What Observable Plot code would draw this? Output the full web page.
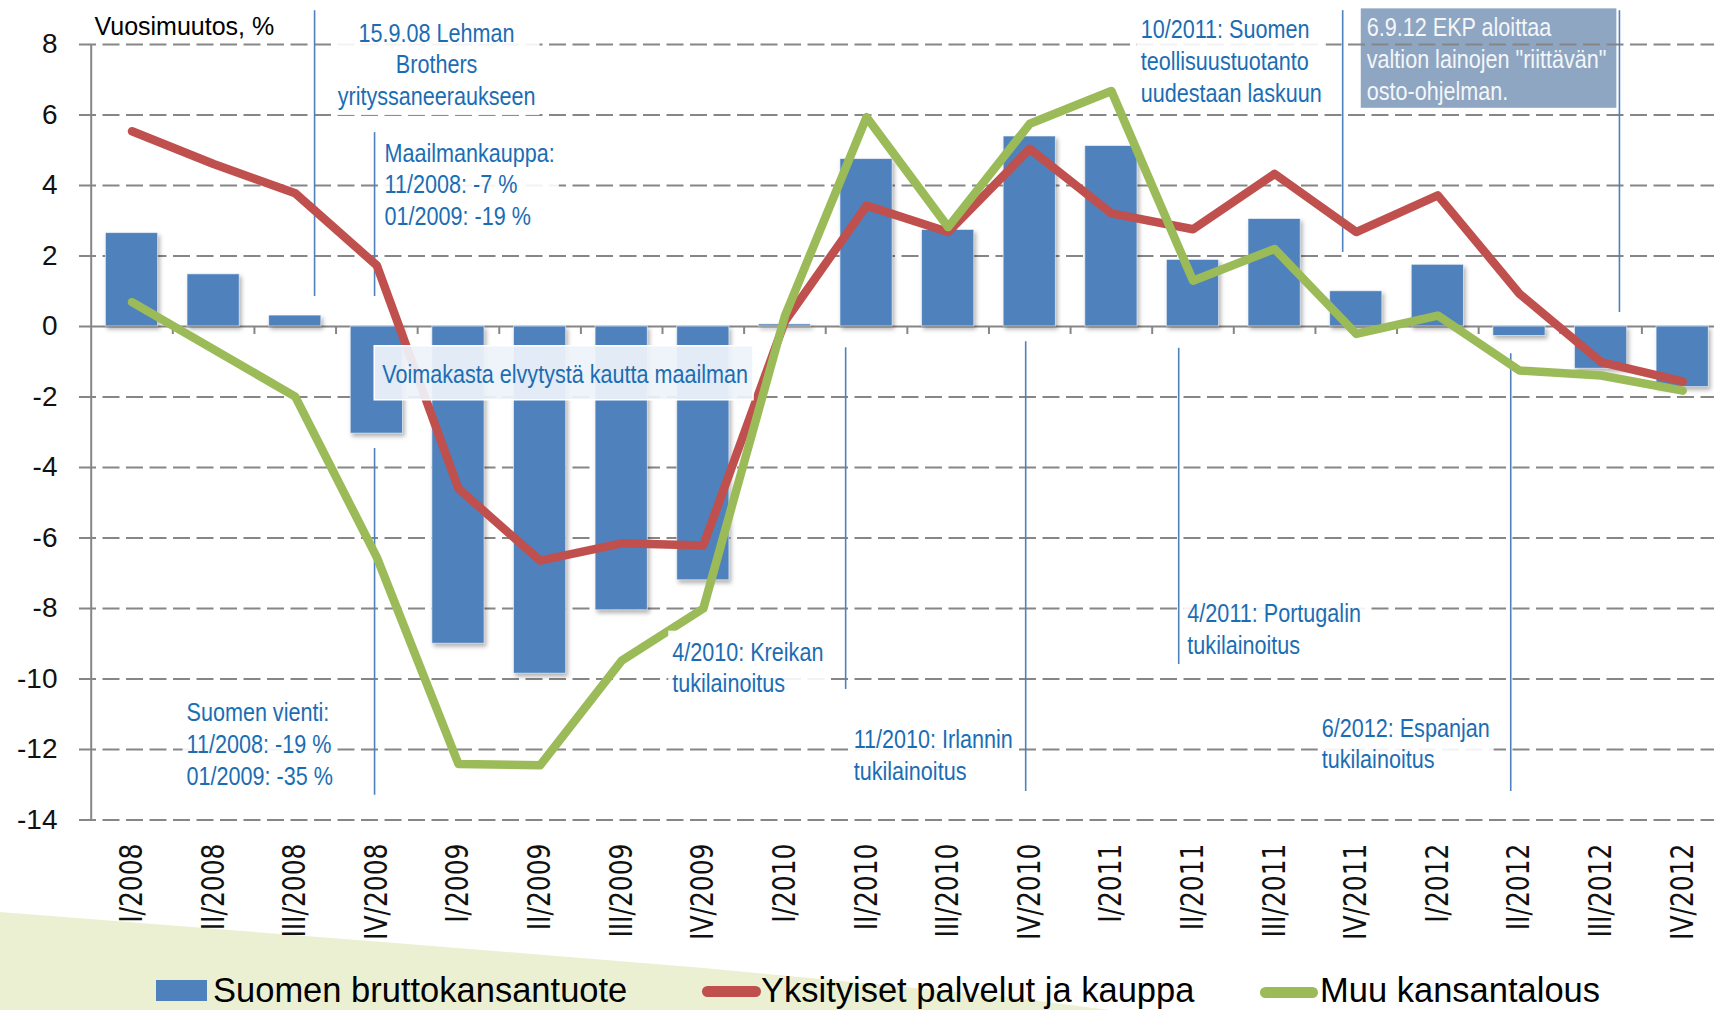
<!DOCTYPE html>
<html>
<head>
<meta charset="utf-8">
<script src="https://cdn.jsdelivr.net/npm/d3@7"></script>
<script src="https://cdn.jsdelivr.net/npm/@observablehq/plot@0.6"></script>
<style>
  html, body { margin: 0; padding: 0; background: #ffffff; overflow: hidden; }
  #wrap { position: relative; width: 1714px; height: 1010px; overflow: hidden; }
  #wedge { position: absolute; left: 0; top: 0; width: 1714px; height: 1010px; background: #ecf0d3;
           clip-path: polygon(0px 912px, 383px 942px, 704px 968px, 1000px 996px, 1110px 1010px, 0px 1010px); }
  #chart { position: absolute; left: 0; top: 0; }
  .leg-text { position: absolute; font-family: "Liberation Sans", Arial, sans-serif; font-size: 34.5px;
              line-height: 1; color: #000; white-space: nowrap; }
  .leg-key { position: absolute; }
</style>
</head>
<body>
<div id="wrap">
  <div id="wedge"></div>
  <div id="chart"></div>
  <div id="legend"></div>
</div>
<script>
// ---------- data ----------
const quarters = ["I/2008","II/2008","III/2008","IV/2008","I/2009","II/2009","III/2009","IV/2009",
                  "I/2010","II/2010","III/2010","IV/2010","I/2011","II/2011","III/2011","IV/2011",
                  "I/2012","II/2012","III/2012","IV/2012"];
const gdp      = [2.65, 1.48, 0.31, -3.04, -9.0, -9.85, -8.05, -7.2, 0.06, 4.75, 2.74, 5.39, 5.12, 1.89, 3.05, 1.0, 1.75, -0.27, -1.2, -1.72];
const services = [5.54, 4.61, 3.78, 1.73, -4.6, -6.64, -6.15, -6.21, 0.15, 3.43, 2.68, 5.04, 3.21, 2.76, 4.33, 2.68, 3.72, 0.93, -1.01, -1.56];
const other    = [0.69, -0.65, -1.99, -6.55, -12.41, -12.45, -9.48, -8.0, 0.3, 5.94, 2.82, 5.75, 6.68, 1.3, 2.2, -0.21, 0.31, -1.25, -1.39, -1.82];
const seriesNames = ["Suomen bruttokansantuote", "Yksityiset palvelut ja kauppa", "Muu kansantalous"];
const seriesColors = ["#4f81bd", "#c0504d", "#9bbb59"];
const yTicks = [-14, -12, -10, -8, -6, -4, -2, 0, 2, 4, 6, 8];
const yLabel = "Vuosimuutos, %";

// annotation marker lines (x in quarter-index units, y in % units)
const annoLineX  = [2.237, 2.972, 2.972, 8.744, 10.95, 12.825, 14.834, 16.893, 18.225];
const annoLineY1 = [8.96, 5.50, -3.46, -0.60, -0.43, -0.62, 8.96, -0.77, 8.96];
const annoLineY2 = [0.85, 0.85, -13.30, -10.30, -13.19, -9.59, 2.10, -13.19, 0.40];

// centred annotation
const centerText = "15.9.08 Lehman\nBrothers\nyrityssaneeraukseen";
const centerTextX = 3.732, centerTextY = 8.72;
// left-aligned annotations
const annoText = [
  "Maailmankauppa:\n11/2008: -7 %\n01/2009: -19 %",
  "Suomen vienti:\n11/2008: -19 %\n01/2009: -35 %",
  "4/2010: Kreikan\ntukilainoitus",
  "11/2010: Irlannin\ntukilainoitus",
  "4/2011: Portugalin\ntukilainoitus",
  "6/2012: Espanjan\ntukilainoitus",
  "10/2011: Suomen\nteollisuustuotanto\nuudestaan laskuun"
];
const annoTextX = [3.094, 0.668, 6.619, 8.842, 12.931, 14.577, 12.359];
const annoTextY = [5.32, -10.56, -8.84, -11.32, -7.75, -11.0, 8.81];

const boxText = "Voimakasta elvytystä kautta maailman";
const boxTextX = 3.066, boxTextY = -1.36;
const ekpText = "6.9.12 EKP aloittaa\nvaltion lainojen \"riittävän\"\nosto-ohjelman.";
const ekpTextX = 15.129, ekpTextY = 8.87;

// ---------- chart ----------
const idx = d3.range(quarters.length);
const W = 1714, H = 955;
const annoFont = "'Liberation Sans Narrow', 'Arial Narrow', 'Liberation Sans', sans-serif";
const annoColor = "#1b6db3";
const lineColor = "#4f81bd";
const annoRows = annoText.map((t, i) => ({t, x: annoTextX[i], y: annoTextY[i]}));
const lineRows = annoLineX.map((x, i) => ({x, y1: annoLineY1[i], y2: annoLineY2[i]}));

const plot = Plot.plot({
  width: W,
  height: H,
  marginLeft: 79,
  marginRight: 0,
  marginTop: 44,
  marginBottom: H - 819.5,
  style: {fontFamily: "'Liberation Sans', Arial, sans-serif", background: "transparent", overflow: "visible"},
  x: {type: "linear", domain: [-0.5, quarters.length - 0.5], range: [90.7, 1723]},
  y: {domain: [-14, 8]},
  marks: [
    Plot.ruleY(yTicks.filter(d => d !== 0), {stroke: "#868686", strokeWidth: 2, strokeDasharray: "17,6.5", ariaDescription: "grid"}),
    Plot.ruleY([0], {stroke: "#868686", strokeWidth: 2}),
    Plot.ruleX([-0.5], {y1: -14, y2: 8, stroke: "#868686", strokeWidth: 2}),
    Plot.ruleX(d3.range(1, quarters.length).map(k => k - 0.5), {x: d => d, y1: 0, y2: 0, insetBottom: -8, stroke: "#868686", strokeWidth: 2}),
    Plot.axisY({ticks: yTicks, tickSize: 0, tickPadding: 22, tickFormat: d => String(d), fontSize: 28, label: null, fill: "#111"}),
    Plot.axisX({ticks: idx, tickFormat: i => quarters[i], tickRotate: -90, tickSize: 0, tickPadding: 23.5,
                fontSize: 25, fontFamily: "'DejaVu Sans', sans-serif", label: null, fill: "#111"}),
    Plot.ruleX(lineRows, {x: "x", y1: "y1", y2: "y2", stroke: lineColor, strokeWidth: 1.6}),
    Plot.rect(idx, {x1: i => i - 0.32, x2: i => i + 0.32, y1: 0, y2: i => gdp[i], fill: seriesColors[0],
                    stroke: "#ffffff", strokeOpacity: 0.6, strokeWidth: 1, ariaDescription: "gdp"}),
    Plot.line(idx, {x: i => i, y: i => services[i], stroke: seriesColors[1], strokeWidth: 8.5, strokeLinejoin: "round", strokeLinecap: "round"}),
    Plot.line(idx, {x: i => i, y: i => other[i], stroke: seriesColors[2], strokeWidth: 8.5, strokeLinejoin: "round", strokeLinecap: "round"}),
    Plot.text([centerText], {x: centerTextX, y: centerTextY, text: d => d, textAnchor: "middle", lineAnchor: "top", lineHeight: 1.22,
                         fontSize: 26, fontFamily: annoFont, fill: annoColor, ariaDescription: "anno"}),
    Plot.text(annoRows, {x: "x", y: "y", text: "t", textAnchor: "start", lineAnchor: "top", lineHeight: 1.22,
                         fontSize: 26, fontFamily: annoFont, fill: annoColor, ariaDescription: "anno"}),
    Plot.text([boxText], {x: boxTextX, y: boxTextY, text: d => d, textAnchor: "start", lineAnchor: "middle",
                          fontSize: 26, fontFamily: annoFont, fill: annoColor, ariaDescription: "annobox"}),
    Plot.text([ekpText], {x: ekpTextX, y: ekpTextY, text: d => d, textAnchor: "start", lineAnchor: "top", lineHeight: 1.22,
                          fontSize: 26, fontFamily: annoFont, fill: "#f4f6f9", ariaDescription: "annoekp"}),
    Plot.text([yLabel], {frameAnchor: "top-left", dx: 15, dy: -27, text: d => d, textAnchor: "start", lineAnchor: "top",
                         fontSize: 25, fill: "#000"})
  ]
});
document.getElementById("chart").appendChild(plot);

// ---------- post-processing ----------
const svg = plot;
const NS = "http://www.w3.org/2000/svg";
const annoGroups = [...svg.querySelectorAll('g[aria-description="anno"], g[aria-description="annobox"], g[aria-description="annoekp"]')];

// narrow the annotation text (Arial Narrow look) if no narrow face is installed
const ctx = document.createElement("canvas").getContext("2d");
ctx.font = "26px 'Liberation Sans Narrow', 'Liberation Sans'";
const wNarrow = ctx.measureText("Voimakasta elvytystä").width;
ctx.font = "26px 'Liberation Sans'";
const wRegular = ctx.measureText("Voimakasta elvytystä").width;
const narrowAvailable = wNarrow < wRegular * 0.95;
if (!narrowAvailable) {
  annoGroups.forEach(g => {
    g.querySelectorAll("text").forEach(t => {
      const parts = t.querySelectorAll("tspan");
      const els = parts.length ? [...parts] : [t];
      els.forEach(el => {
        const len = el.getComputedTextLength();
        if (len > 0) {
          el.setAttribute("textLength", (len * 0.83).toFixed(1));
          el.setAttribute("lengthAdjust", "spacingAndGlyphs");
        }
      });
    });
  });
}

const sRect = svg.getBoundingClientRect();
function boxFor(group, opts, insertBefore) {
  if (!group) return;
  group.querySelectorAll("text").forEach(t => {
    const r = t.getBoundingClientRect();
    const rect = document.createElementNS(NS, "rect");
    rect.setAttribute("x", r.left - sRect.left - opts.px);
    rect.setAttribute("y", r.top - sRect.top - opts.pt);
    rect.setAttribute("width", r.width + opts.px + (opts.pr ?? opts.px));
    rect.setAttribute("height", r.height + opts.pt + opts.pb);
    rect.setAttribute("fill", opts.fill);
    rect.setAttribute("fill-opacity", opts.opacity);
    if (opts.stroke) { rect.setAttribute("stroke", opts.stroke); rect.setAttribute("stroke-width", opts.sw); }
    svg.insertBefore(rect, insertBefore);
  });
}
const gGrid = svg.querySelector('g[aria-description="grid"]');
svg.querySelectorAll('g[aria-description="anno"]').forEach(g =>
  boxFor(g, {px: 4, pt: 6, pb: 4, fill: "#ffffff", opacity: 0.9}, g));
const gBox = svg.querySelector('g[aria-description="annobox"]');
boxFor(gBox, {px: 8, pr: 5, pt: 13, pb: 11, fill: "#eef3fa", opacity: 0.93, stroke: "#ffffff", sw: 1.5}, gBox);
const gEkp = svg.querySelector('g[aria-description="annoekp"]');
boxFor(gEkp, {px: 6, pr: 10, pt: 4, pb: 2, fill: "#8ea6c2", opacity: 1}, gGrid);

const gGdp = svg.querySelector('g[aria-description="gdp"]');
if (gGdp) gGdp.style.filter = "drop-shadow(2px 3px 2px rgba(0,0,0,0.3))";

const gX = svg.querySelector('g[aria-label="x-axis tick label"]');
if (gX) gX.querySelectorAll("text").forEach(t => {
  const tr = t.getAttribute("transform") || "";
  t.setAttribute("transform", tr + " scale(1,1.25)");
});

// ---------- legend (below the SVG) ----------
const legend = document.getElementById("legend");
const legItems = [
  {key: {left: 156, top: 980, width: 51, height: 21, radius: 0}, textLeft: 213},
  {key: {left: 702, top: 986, width: 59, height: 11, radius: 6}, textLeft: 761},
  {key: {left: 1260, top: 987, width: 58, height: 11, radius: 6}, textLeft: 1320}
];
seriesNames.forEach((name, i) => {
  const k = legItems[i].key;
  const sw = document.createElement("div");
  sw.className = "leg-key";
  Object.assign(sw.style, {left: k.left + "px", top: k.top + "px", width: k.width + "px", height: k.height + "px",
                           background: seriesColors[i], borderRadius: k.radius + "px"});
  legend.appendChild(sw);
  const tx = document.createElement("div");
  tx.className = "leg-text";
  tx.style.left = legItems[i].textLeft + "px";
  tx.style.top = "973px";
  tx.textContent = name;
  legend.appendChild(tx);
});
</script>
</body>
</html>
